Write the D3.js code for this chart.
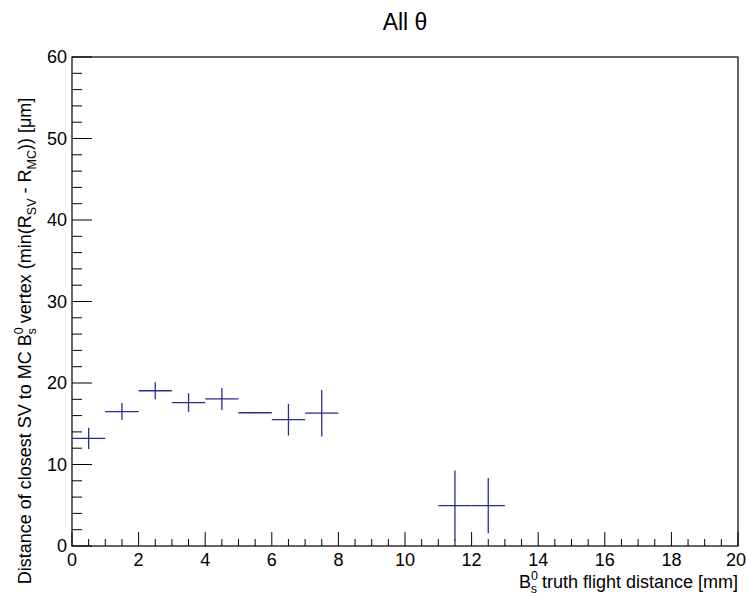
<!DOCTYPE html>
<html><head><meta charset="utf-8">
<script src="https://cdn.jsdelivr.net/npm/d3@7/dist/d3.min.js"></script>
<style>body{margin:0;background:#fff}svg{display:block}text{font-family:"Liberation Sans",Arial,Helvetica,sans-serif}</style>
</head><body>
<script>
const binLow  = [0, 1, 2, 3, 4, 5, 6, 7, 11, 12];
const binHigh = [1, 2, 3, 4, 5, 6, 7, 8, 12, 13];
const values  = [13.2, 16.5, 19.05, 17.6, 18.05, 16.35, 15.5, 16.3, 4.95, 4.95];
const errors  = [1.3, 1.05, 1.05, 1.15, 1.35, 0.05, 1.95, 2.85, 4.3, 3.4];
const xTicks = [0, 2, 4, 6, 8, 10, 12, 14, 16, 18, 20];
const yTicks = [0, 10, 20, 30, 40, 50, 60];

const W = 747, H = 596;
const m = {l: 72, r: 9, t: 57, b: 50};
const svg = d3.select("body").append("svg").attr("width", W).attr("height", H);
const x = d3.scaleLinear().domain([0, 20]).range([m.l, W - m.r]);
const y = d3.scaleLinear().domain([0, 60]).range([H - m.b, m.t]);
const col = "#2b2b94";
const fs = 18;
const lfs = 18;
const sfs = 12.5;

// frame
svg.append("rect").attr("x", x(0)).attr("y", y(60)).attr("width", x(20) - x(0)).attr("height", y(0) - y(60))
  .attr("fill", "none").attr("stroke", "#000").attr("stroke-width", 1.2);

// x axis ticks
const xMinor = d3.range(0, 20.001, 0.5);
svg.append("g").selectAll("line").data(xMinor).join("line")
  .attr("x1", d => x(d)).attr("x2", d => x(d))
  .attr("y1", y(0)).attr("y2", d => y(0) - (Math.abs(d % 2) < 1e-6 ? 14 : 7))
  .attr("stroke", "#000").attr("stroke-width", 1);
svg.append("g").selectAll("text").data(xTicks).join("text")
  .attr("x", d => x(d) - (d === 20 ? 2 : 0)).attr("y", y(0) + 20).attr("text-anchor", "middle")
  .attr("font-size", fs).text(d => d);

// y axis ticks
const yMinor = d3.range(0, 60.001, 2);
svg.append("g").selectAll("line").data(yMinor).join("line")
  .attr("x1", x(0)).attr("x2", d => x(0) + (Math.abs(d % 10) < 1e-6 ? 20 : 10))
  .attr("y1", d => y(d)).attr("y2", d => y(d))
  .attr("stroke", "#000").attr("stroke-width", 1);
svg.append("g").selectAll("text").data(yTicks).join("text")
  .attr("x", x(0) - 5).attr("y", d => y(d)).attr("dy", "0.35em").attr("text-anchor", "end")
  .attr("font-size", fs).text(d => d);

// data
const data = values.map((v, i) => ({lo: binLow[i], hi: binHigh[i], v, e: errors[i]}));
const g = svg.append("g").attr("stroke", col).attr("stroke-width", 1.3);
data.forEach(d => {
  g.append("line").attr("x1", x(d.lo)).attr("x2", x(d.hi)).attr("y1", y(d.v)).attr("y2", y(d.v));
  g.append("line").attr("x1", x((d.lo + d.hi) / 2)).attr("x2", x((d.lo + d.hi) / 2))
    .attr("y1", y(Math.max(0, d.v - d.e))).attr("y2", y(d.v + d.e));
});

// title
svg.append("text").attr("x", 405).attr("y", 30).attr("text-anchor", "middle").attr("font-size", 23).text("All θ");

// x label
const xl = svg.append("text").attr("x", x(20)).attr("y", 588).attr("text-anchor", "end").attr("font-size", lfs);
xl.append("tspan").text("B");
xl.append("tspan").attr("font-size", sfs).attr("dy", -8).text("0");
xl.append("tspan").attr("font-size", sfs).attr("dx", -7.2).attr("dy", 13).text("s");
xl.append("tspan").attr("dy", -5).text(" truth flight distance [mm]");

// y label
const yl = svg.append("text").attr("transform", "translate(31," + 341 + ") rotate(-90)")
  .attr("text-anchor", "middle").attr("font-size", lfs);
yl.append("tspan").text("Distance of closest SV to MC B");
yl.append("tspan").attr("font-size", sfs).attr("dy", -8).text("0");
yl.append("tspan").attr("font-size", sfs).attr("dx", -7.2).attr("dy", 13).text("s");
yl.append("tspan").attr("dy", -5).text(" vertex (min(R");
yl.append("tspan").attr("font-size", sfs).attr("dy", 5).text("SV");
yl.append("tspan").attr("dy", -5).text(" - R");
yl.append("tspan").attr("font-size", sfs).attr("dy", 5).text("MC");
yl.append("tspan").attr("dy", -5).text(")) [μm]");
</script>
</body></html>
